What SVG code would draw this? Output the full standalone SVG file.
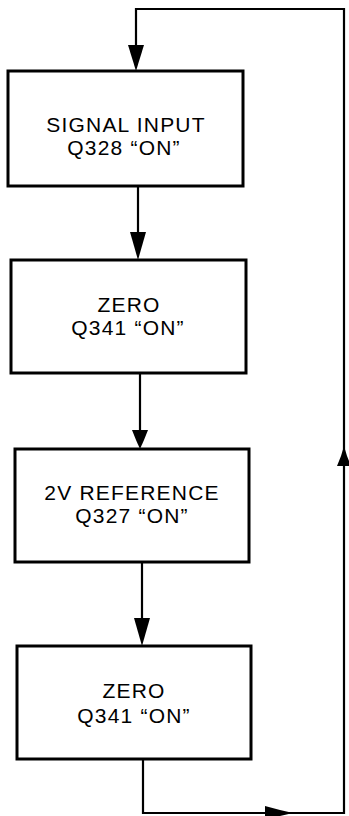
<svg xmlns="http://www.w3.org/2000/svg" width="349" height="816" viewBox="0 0 349 816">
<style>
.box{fill:#fff;stroke:#000;stroke-width:3}
.ln{fill:none;stroke:#000;stroke-width:2.2}
.ah{fill:#000;stroke:none}
text{font-family:"Liberation Sans",Arial,sans-serif;font-size:21px;fill:#000;text-anchor:middle;letter-spacing:1.2px}
</style>
<rect width="349" height="816" fill="#fff"/>
<g id="connectors">
<polyline class="ln" points="136,60 136,9 344,9 344,813 143,813 143,759"/>
<polygon class="ah" points="128,45 144,45 140,58 136,71 132,58"/>
<line class="ln" x1="138" y1="186" x2="138" y2="240"/>
<polygon class="ah" points="130,232 146,232 142,246 138,260 134,246"/>
<line class="ln" x1="140" y1="373" x2="140" y2="435"/>
<polygon class="ah" points="132,430 148,430 144,440 140,449 136,440"/>
<line class="ln" x1="142" y1="562" x2="142" y2="625"/>
<polygon class="ah" points="134,618 150,618 146,632 142,646 138,632"/>
<polygon class="ah" points="337,466 351,466 347,456 344,446 341,456"/>
<polygon class="ah" points="265,806 265,820 280,816 293,813 280,810"/>
</g>
<g id="n1">
<rect class="box" x="8" y="71" width="235" height="115"/>
<text x="126" y="132">SIGNAL INPUT</text>
<text x="124" y="155">Q328 “ON”</text>
</g>
<g id="n2">
<rect class="box" x="11" y="260" width="235" height="113"/>
<text x="129" y="312">ZERO</text>
<text x="128" y="335">Q341 “ON”</text>
</g>
<g id="n3">
<rect class="box" x="15" y="449" width="234" height="113"/>
<text x="132" y="500">2V REFERENCE</text>
<text x="132" y="523">Q327 “ON”</text>
</g>
<g id="n4">
<rect class="box" x="17" y="646" width="234" height="113"/>
<text x="134" y="698">ZERO</text>
<text x="134" y="723">Q341 “ON”</text>
</g>
</svg>
